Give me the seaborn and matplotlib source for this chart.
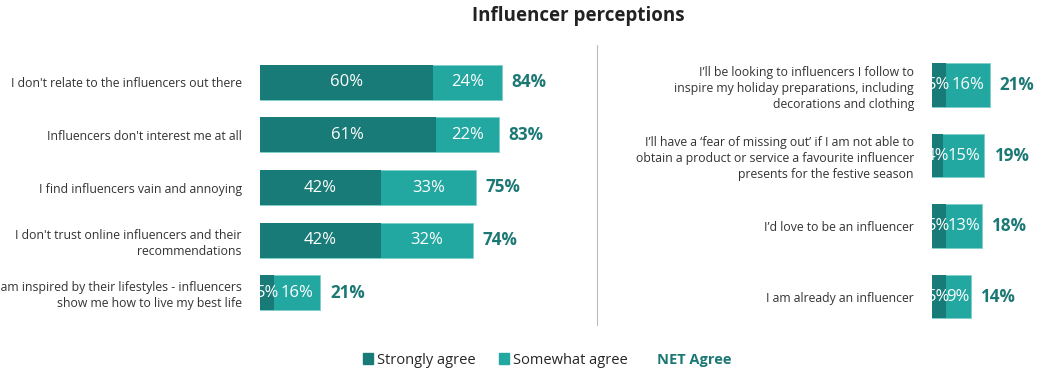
import numpy as np
import seaborn as sns
import matplotlib.pyplot as plt
from matplotlib.patches import Patch
from matplotlib.lines import Line2D

# Left panel
left_items = [
    "I don't relate to the influencers out there",
    "Influencers don't interest me at all",
    "I find influencers vain and annoying",
    "I don't trust online influencers and their\nrecommendations",
    "I am inspired by their lifestyles - influencers\nshow me how to live my best life",
]
left_strong = [60, 61, 42, 42, 5]
left_somewhat = [24, 22, 33, 32, 16]
left_net = [84, 83, 75, 74, 21]

# Right panel
right_items = [
    "I\u2019ll be looking to influencers I follow to\ninspire my holiday preparations, including\ndecorations and clothing",
    "I\u2019ll have a \u2018fear of missing out\u2019 if I am not able to\nobtain a product or service a favourite influencer\npresents for the festive season",
    "I\u2019d love to be an influencer",
    "I am already an influencer",
]
right_strong = [5, 4, 5, 5]
right_somewhat = [16, 15, 13, 9]
right_net = [21, 19, 18, 14]

dark = "#187b77"
light = "#22a7a1"
net_color = "#1c7874"

sns.set_theme(style="white")
plt.rcParams['font.family'] = ['Open Sans', 'DejaVu Sans']

fig = plt.figure(figsize=(10.43, 3.75), dpi=100)


def draw_panel(ax, items, strong, somewhat, net, bar_w, xmax):
    total = np.array(strong) + np.array(somewhat)
    sns.barplot(x=total, y=items, orient="h", color=light, width=bar_w,
                saturation=1, ax=ax, edgecolor="#7fcfcb", linewidth=0.6)
    sns.barplot(x=strong, y=items, orient="h", color=dark, width=bar_w,
                saturation=1, ax=ax, linewidth=0)
    # value labels
    ax.bar_label(ax.containers[1], labels=[f"{v}%" for v in strong],
                 label_type="center", color="white", fontsize=12)
    for i, (s, w) in enumerate(zip(strong, somewhat)):
        ax.text(s + w / 2, i, f"{w}%", ha="center", va="center",
                color="white", fontsize=12)
    ax.bar_label(ax.containers[0], labels=[f"{v}%" for v in net],
                 padding=7, color=net_color, fontsize=12.3, fontweight="bold")
    ax.set_xlim(0, xmax)
    ax.set_xticks([])
    ax.set_xlabel("")
    ax.set_ylabel("")
    ax.tick_params(axis="y", length=0, pad=13, labelsize=8.8, colors="#333333")
    for lbl in ax.get_yticklabels():
        lbl.set_linespacing(1.3)
    sns.despine(ax=ax, left=True, bottom=True)


ax1 = fig.add_axes([260 / 1043, 0.149, 288 / 1043, 0.702])
draw_panel(ax1, left_items, left_strong, left_somewhat, left_net, 0.66, 100)

ax2 = fig.add_axes([932 / 1043, 0.115, 110 / 1043, 0.752])
draw_panel(ax2, right_items, right_strong, right_somewhat, right_net, 0.62, 40)

fig.text(0.5545, 0.958, "Influencer perceptions", ha="center", va="center",
         fontsize=13.5, fontweight="bold", color="#222222")

fig.add_artist(Line2D([597 / 1043, 597 / 1043], [1 - 45 / 375, 1 - 325 / 375],
                      color="#bbbbbb", linewidth=0.8))

handles = [Patch(color=dark, label="Strongly agree"),
           Patch(color=light, label="Somewhat agree")]
fig.legend(handles=handles, loc="center", bbox_to_anchor=(0.475, 0.04),
           ncol=2, frameon=False, fontsize=10.5, handlelength=0.7,
           handleheight=0.7, handletextpad=0.25, columnspacing=1.6)
fig.text(657 / 1043, 0.04, "NET Agree", ha="left", va="center",
         fontsize=10.5, fontweight="bold", color=net_color)

fig.savefig("out.png", dpi=100)
